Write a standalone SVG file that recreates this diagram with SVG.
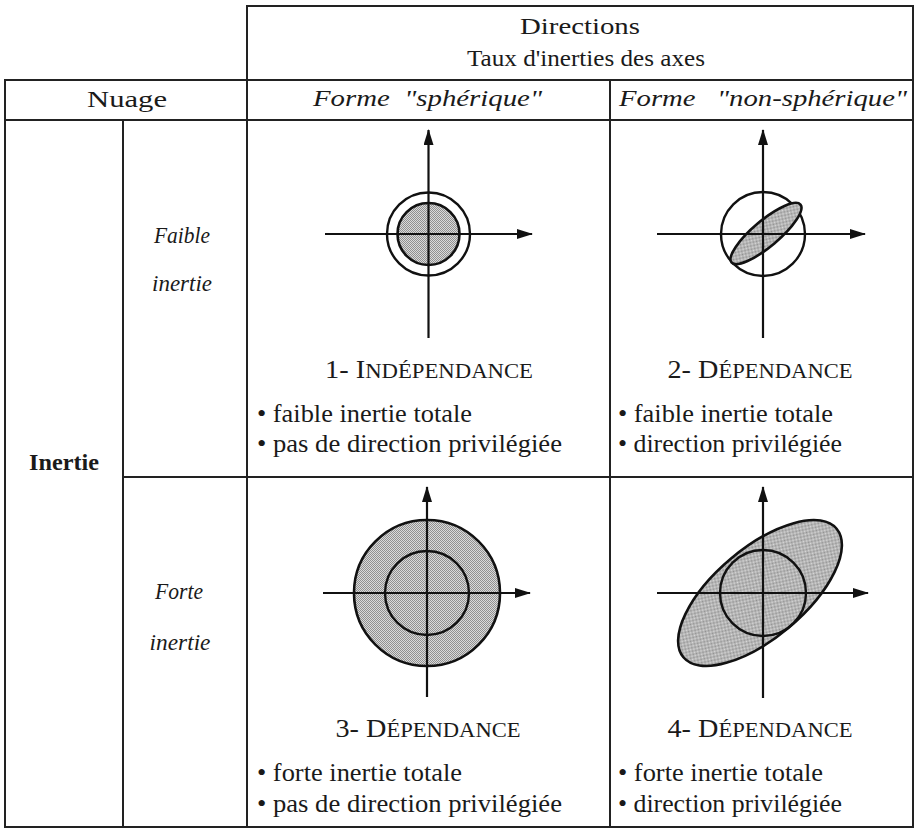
<svg xmlns="http://www.w3.org/2000/svg" width="917" height="829" viewBox="0 0 917 829">
<style>
text{font-family:"Liberation Serif","Times New Roman",serif;fill:#1a1a1a}
.hd{font-size:24px}
.it{font-style:italic;font-size:24px}
.bd{font-weight:bold;font-size:23px}
.lb{font-size:25px}
.bl{font-size:25.5px}
.grid line{stroke:#222;stroke-width:2}
.ax{stroke:#111;stroke-width:2.2;fill:none}
.ring{stroke:#111;stroke-width:2.4;fill:none}
.sh{stroke:#111;stroke-width:2.6;fill:url(#stip)}
</style>
<defs>
<pattern id="stip" width="2" height="2" patternUnits="userSpaceOnUse">
<rect width="2" height="2" fill="#dadada"/>
<rect width="1" height="1" fill="#909090"/>
<rect x="1" y="1" width="1" height="1" fill="#909090"/>
</pattern>
<marker id="arr" viewBox="0 0 16 10" refX="15" refY="5" markerWidth="16" markerHeight="10" markerUnits="userSpaceOnUse" orient="auto">
<path d="M0,0 L16,5 L0,10 z" fill="#111"/>
</marker>
</defs>
<rect width="917" height="829" fill="#fff"/>

<g id="grid" class="grid">
<line x1="246" y1="6" x2="914" y2="6"/>
<line x1="247" y1="6" x2="247" y2="828"/>
<line x1="913" y1="6" x2="913" y2="828"/>
<line x1="4" y1="80" x2="914" y2="80"/>
<line x1="4" y1="120" x2="914" y2="120"/>
<line x1="5" y1="80" x2="5" y2="828"/>
<line x1="123" y1="120" x2="123" y2="828"/>
<line x1="610" y1="80" x2="610" y2="828"/>
<line x1="123" y1="477" x2="914" y2="477"/>
<line x1="4" y1="827" x2="914" y2="827"/>
</g>

<g id="header-directions">
<text class="hd" x="580" y="34" text-anchor="middle" textLength="120" lengthAdjust="spacingAndGlyphs">Directions</text>
<text class="hd" x="586" y="66" text-anchor="middle" textLength="238" lengthAdjust="spacingAndGlyphs">Taux d'inerties des axes</text>
</g>
<g id="header-nuage">
<text class="hd" x="127" y="107" text-anchor="middle" textLength="80" lengthAdjust="spacingAndGlyphs">Nuage</text>
</g>
<g id="header-spherique">
<text class="it" x="313" y="106" style="white-space:pre" textLength="229" lengthAdjust="spacingAndGlyphs">Forme  "sphérique"</text>
</g>
<g id="header-nonspherique">
<text class="it" x="619" y="106" style="white-space:pre" textLength="288" lengthAdjust="spacingAndGlyphs">Forme   "non-sphérique"</text>
</g>

<g id="row-inertie">
<text class="bd" x="64" y="470" text-anchor="middle" textLength="70" lengthAdjust="spacingAndGlyphs">Inertie</text>
</g>
<g id="row-faible">
<text class="it" x="182" y="243" text-anchor="middle" textLength="56" lengthAdjust="spacingAndGlyphs">Faible</text>
<text class="it" x="182" y="291" text-anchor="middle" textLength="60" lengthAdjust="spacingAndGlyphs">inertie</text>
</g>
<g id="row-forte">
<text class="it" x="179" y="599" text-anchor="middle" textLength="48" lengthAdjust="spacingAndGlyphs">Forte</text>
<text class="it" x="180" y="650" text-anchor="middle" textLength="61" lengthAdjust="spacingAndGlyphs">inertie</text>
</g>

<g id="cell-1">
<circle class="ring" cx="428.5" cy="234" r="41.5"/>
<circle class="sh" cx="428.5" cy="234" r="31"/>
<line class="ax" x1="428.5" y1="338" x2="428.5" y2="130" marker-end="url(#arr)"/>
<line class="ax" x1="325" y1="234" x2="532" y2="234" marker-end="url(#arr)"/>
<text class="lb" x="429" y="378" text-anchor="middle" textLength="208" lengthAdjust="spacingAndGlyphs">1- I<tspan font-size="20">NDÉPENDANCE</tspan></text>
<text class="bl" x="257" y="422" textLength="215" lengthAdjust="spacingAndGlyphs">• faible inertie totale</text>
<text class="bl" x="257" y="452" textLength="305" lengthAdjust="spacingAndGlyphs">• pas de direction privilégiée</text>
</g>

<g id="cell-2">
<circle class="ring" cx="763" cy="234" r="42"/>
<ellipse class="sh" cx="766" cy="233.5" rx="45" ry="13" transform="rotate(-40 766 233.5)"/>
<line class="ax" x1="763" y1="338" x2="763" y2="130" marker-end="url(#arr)"/>
<line class="ax" x1="657" y1="234" x2="865" y2="234" marker-end="url(#arr)"/>
<text class="lb" x="760" y="378" text-anchor="middle" textLength="185" lengthAdjust="spacingAndGlyphs">2- D<tspan font-size="20">ÉPENDANCE</tspan></text>
<text class="bl" x="618" y="422" textLength="215" lengthAdjust="spacingAndGlyphs">• faible inertie totale</text>
<text class="bl" x="618" y="452" textLength="224" lengthAdjust="spacingAndGlyphs">• direction privilégiée</text>
</g>

<g id="cell-3">
<circle class="sh" cx="427" cy="593" r="73"/>
<circle class="ring" cx="427" cy="593" r="42"/>
<line class="ax" x1="427" y1="697" x2="427" y2="487" marker-end="url(#arr)"/>
<line class="ax" x1="323" y1="593" x2="530" y2="593" marker-end="url(#arr)"/>
<text class="lb" x="428" y="737" text-anchor="middle" textLength="185" lengthAdjust="spacingAndGlyphs">3- D<tspan font-size="20">ÉPENDANCE</tspan></text>
<text class="bl" x="257" y="781" textLength="205" lengthAdjust="spacingAndGlyphs">• forte inertie totale</text>
<text class="bl" x="257" y="812" textLength="305" lengthAdjust="spacingAndGlyphs">• pas de direction privilégiée</text>
</g>

<g id="cell-4">
<ellipse class="sh" cx="760" cy="593" rx="100" ry="45" transform="rotate(-40 760 593)"/>
<circle class="ring" cx="763" cy="593" r="43"/>
<line class="ax" x1="763" y1="698" x2="763" y2="487" marker-end="url(#arr)"/>
<line class="ax" x1="657" y1="593" x2="868" y2="593" marker-end="url(#arr)"/>
<text class="lb" x="760" y="737" text-anchor="middle" textLength="185" lengthAdjust="spacingAndGlyphs">4- D<tspan font-size="20">ÉPENDANCE</tspan></text>
<text class="bl" x="618" y="781" textLength="205" lengthAdjust="spacingAndGlyphs">• forte inertie totale</text>
<text class="bl" x="618" y="812" textLength="224" lengthAdjust="spacingAndGlyphs">• direction privilégiée</text>
</g>
</svg>
